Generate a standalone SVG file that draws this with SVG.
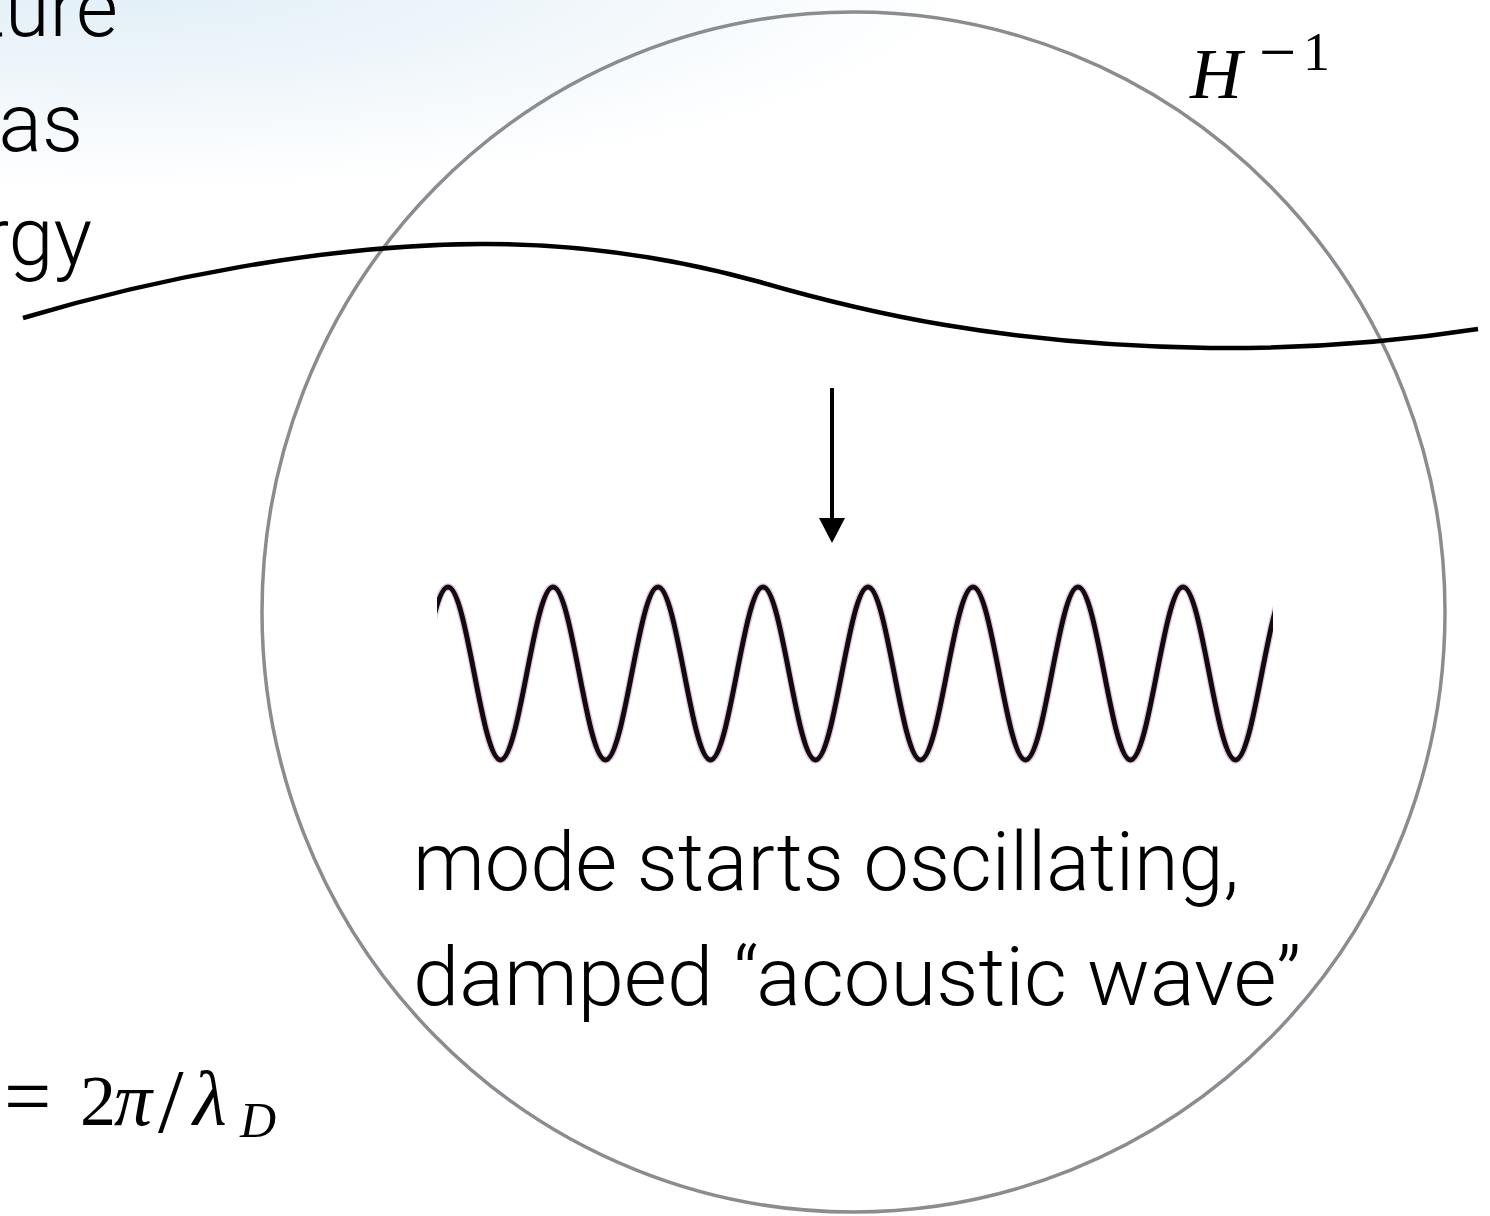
<svg xmlns="http://www.w3.org/2000/svg" width="1490" height="1216" viewBox="0 0 1490 1216">
  <defs>
    <radialGradient id="bgGrad" gradientUnits="userSpaceOnUse" cx="0" cy="0" r="1" gradientTransform="translate(120,-30) scale(850,220)">
      <stop offset="0" stop-color="#e0eef7"/>
      <stop offset="0.45" stop-color="#edf5fa"/>
      <stop offset="1" stop-color="#ffffff"/>
    </radialGradient>
    <clipPath id="waveClip">
      <rect x="437" y="560" width="836" height="220"/>
    </clipPath>
    <marker id="arrowHead" markerUnits="userSpaceOnUse" markerWidth="26" markerHeight="26" viewBox="0 0 25 26" refX="0" refY="13" orient="auto">
      <path d="M0,0 L25,13 L0,26 z" fill="#000"/>
    </marker>
    <style>
      .sans { font-family: Roboto, "Liberation Sans", "DejaVu Sans", sans-serif; font-weight: 300; font-size: 81px; fill: #000; }
      .math { font-family: "Liberation Serif", "DejaVu Serif", serif; fill: #000; }
    </style>
  </defs>

  <rect id="background" x="0" y="0" width="1490" height="1216" fill="url(#bgGrad)"/>

  <g id="left-text">
    <text class="sans" x="118" y="36" text-anchor="end">ture</text>
    <text class="sans" x="83" y="151" text-anchor="end">as</text>
    <text class="sans" x="92" y="265" text-anchor="end">rgy</text>
  </g>

  <g id="formula">
    <text class="math" font-size="84" x="4" y="1125">=</text>
    <text class="math" font-size="72" x="80" y="1125">2</text>
    <text class="math" font-size="76" x="114" y="1125" font-style="italic">π</text>
    <text class="math" font-size="92" x="158" y="1132">/</text>
    <text class="math" font-size="78" x="193" y="1125" font-style="italic">λ</text>
    <text class="math" font-size="50" x="240" y="1137" font-style="italic">D</text>
  </g>

  <g id="horizon">
    <ellipse cx="853.5" cy="612" rx="591.5" ry="600" fill="none" stroke="#8a8c90" stroke-width="3.5"/>
  </g>

  <g id="horizon-label">
    <text class="math" x="1190" y="98" font-size="72" font-style="italic">H</text>
    <text class="math"><tspan x="1259" y="74" font-size="66">−</tspan><tspan x="1303" y="70" font-size="54">1</tspan></text>
  </g>

  <g id="mode-curve">
    <path d="M23,318 C150,280 320,245 480,244 C600,243 695,264 760,282 C860,311 1000,345 1210,348 C1330,349 1420,338 1478,329" fill="none" stroke="#000" stroke-width="4.5"/>
  </g>

  <g id="connectors">
    <line x1="832" y1="388" x2="832" y2="518" stroke="#000" stroke-width="4" marker-end="url(#arrowHead)"/>
  </g>

  <g id="wave" clip-path="url(#waveClip)">
    <path d="M395.5,760 c19.08,0 33.420,-173 52.5,-173 s33.42,173 52.5,173 s33.42,-173 52.5,-173 s33.42,173 52.5,173 s33.42,-173 52.5,-173 s33.42,173 52.5,173 s33.42,-173 52.5,-173 s33.42,173 52.5,173 s33.42,-173 52.5,-173 s33.42,173 52.5,173 s33.42,-173 52.5,-173 s33.42,173 52.5,173 s33.42,-173 52.5,-173 s33.42,173 52.5,173 s33.42,-173 52.5,-173 s33.42,173 52.5,173 s33.42,-173 52.5,-173" fill="none" stroke="#b89ab4" stroke-opacity="0.5" stroke-width="7.5"/>
    <path d="M395.5,760 c19.08,0 33.42,-173 52.5,-173 s33.42,173 52.5,173 s33.42,-173 52.5,-173 s33.42,173 52.5,173 s33.42,-173 52.5,-173 s33.42,173 52.5,173 s33.42,-173 52.5,-173 s33.42,173 52.5,173 s33.42,-173 52.5,-173 s33.42,173 52.5,173 s33.42,-173 52.5,-173 s33.42,173 52.5,173 s33.42,-173 52.5,-173 s33.42,173 52.5,173 s33.42,-173 52.5,-173 s33.42,173 52.5,173 s33.42,-173 52.5,-173" fill="none" stroke="#150812" stroke-width="5"/>
  </g>

  <g id="caption">
    <text class="sans" x="413" y="890" textLength="826" lengthAdjust="spacingAndGlyphs">mode starts oscillating,</text>
    <text class="sans" x="413" y="1005" textLength="888" lengthAdjust="spacingAndGlyphs">damped “acoustic wave”</text>
  </g>
</svg>
